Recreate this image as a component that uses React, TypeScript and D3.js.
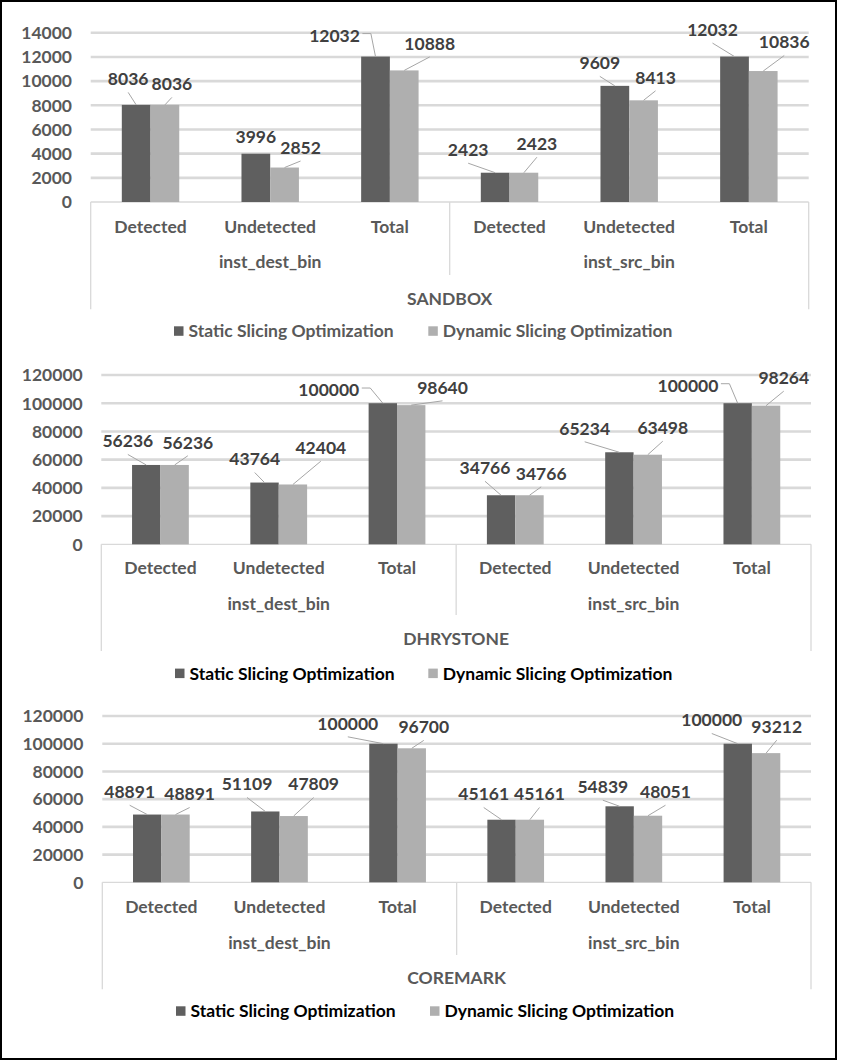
import React from "react";
import * as d3 from "d3";

// ---------- data ----------
const categories = ["Detected", "Undetected", "Total", "Detected", "Undetected", "Total"];
const groups = ["inst_dest_bin", "inst_src_bin"];
const seriesNames = ["Static Slicing Optimization", "Dynamic Slicing Optimization"];

const sandboxStatic = [8036, 3996, 12032, 2423, 9609, 12032];
const sandboxDynamic = [8036, 2852, 10888, 2423, 8413, 10836];
const dhrystoneStatic = [56236, 43764, 100000, 34766, 65234, 100000];
const dhrystoneDynamic = [56236, 42404, 98640, 34766, 63498, 98264];
const coremarkStatic = [48891, 51109, 100000, 45161, 54839, 100000];
const coremarkDynamic = [48891, 47809, 96700, 45161, 48051, 93212];

const sandboxTicks = [0, 2000, 4000, 6000, 8000, 10000, 12000, 14000];
const benchTicks = [0, 20000, 40000, 60000, 80000, 100000, 120000];

const titles = ["SANDBOX", "DHRYSTONE", "COREMARK"];

// ---------- layout / style ----------
const FONT = "Lato, 'Open Sans', sans-serif";
const FS = 17.5;
const DIGIT_W = 10.15;
const CAP = 6.3;
const seriesColors = ["#5f5f5f", "#afafaf"];
const axisText = "#595959";
const labelText = "#404040";
const gridColor = "#d9d9d9";
const leaderColor = "#a6a6a6";

// label offsets (dx, dy) of data labels from bar top-centre, [static[], dynamic[]]
const sandboxOffsets = [
  [[-8, -26], [0, -17], [-41, -21], [-27, -23], [-15, -23], [-22, -27]],
  [[7, -21], [16, -20], [25.5, -27], [13, -29], [12, -23], [21, -29]],
];
const dhrystoneOffsets = [
  [[-18.4, -24], [-9.8, -23.5], [-54, -13.2], [-16.1, -27.5], [-34.7, -24], [-49.7, -17.5]],
  [[13.2, -22.7], [27.9, -36.8], [31.3, -17.8], [11.7, -21.9], [15, -27], [17.7, -28]],
];
const coremarkOffsets = [
  [[-17.5, -22.8], [-18.3, -27.5], [-35.6, -20.4], [-17.8, -25.7], [-16.8, -19.6], [-26, -23.7]],
  [[14.1, -20.5], [20, -32], [12, -21.4], [9.6, -25.7], [17.5, -24], [10.6, -26.4]],
];

type PanelSpec = {
  title: string;
  stat: number[];
  dyn: number[];
  ticks: number[];
  offsets: number[][][];
  left: number;
  right: number;
  yTop: number;
  y0: number;
  tickRight: number;
  catY: number;
  groupY: number;
  titleY: number;
  sepBottom: number;
  midSepBottom: number;
  legendY: number;
  legendX: number[];
  legendColor: string;
};

const panels: PanelSpec[] = [
  {
    title: titles[0], stat: sandboxStatic, dyn: sandboxDynamic, ticks: sandboxTicks, offsets: sandboxOffsets,
    left: 90.7, right: 808.7, yTop: 32.8, y0: 202, tickRight: 72,
    catY: 227, groupY: 262, titleY: 298.3, sepBottom: 309.3, midSepBottom: 275,
    legendY: 331, legendX: [174, 428.3], legendColor: axisText,
  },
  {
    title: titles[1], stat: dhrystoneStatic, dyn: dhrystoneDynamic, ticks: benchTicks, offsets: dhrystoneOffsets,
    left: 101.3, right: 811, yTop: 375, y0: 544.3, tickRight: 82.7,
    catY: 567.7, groupY: 604, titleY: 638.3, sepBottom: 651, midSepBottom: 615,
    legendY: 673.3, legendX: [175, 428.3], legendColor: "#000000",
  },
  {
    title: titles[2], stat: coremarkStatic, dyn: coremarkDynamic, ticks: benchTicks, offsets: coremarkOffsets,
    left: 102.3, right: 811, yTop: 716, y0: 882.3, tickRight: 83.3,
    catY: 906.7, groupY: 942.3, titleY: 977.3, sepBottom: 989.3, midSepBottom: 955,
    legendY: 1011, legendX: [176, 430], legendColor: "#000000",
  },
];

function Panel({ p }: { p: PanelSpec }) {
  const idx = d3.range(categories.length);
  const x = d3.scaleBand<number>().domain(idx).range([p.left, p.right]).paddingInner(0.52).paddingOuter(0.26);
  const xs = d3.scaleBand<number>().domain([0, 1]).range([0, x.bandwidth()]);
  const y = d3.scaleLinear().domain([0, p.ticks[p.ticks.length - 1]]).range([p.y0, p.yTop]);
  const step = x.step();
  const catCenter = (i: number) => p.left + step * (i + 0.5);
  const midX = p.left + step * 3;
  const series = [p.stat, p.dyn];

  const textProps = { fontFamily: FONT, fontSize: FS, fontWeight: 700 } as const;

  return (
    <g>
      {/* gridlines */}
      {p.ticks.slice(1).map((t) => (
        <line key={"g" + t} x1={p.left} x2={p.right} y1={y(t)} y2={y(t)} stroke={gridColor} strokeWidth={2.6} />
      ))}
      {/* y tick labels */}
      {p.ticks.map((t) => (
        <text key={"t" + t} x={p.tickRight} y={y(t) + CAP} textAnchor="end" fill={axisText} {...textProps}>
          {t}
        </text>
      ))}
      {/* axis + category separators */}
      <line x1={p.left} x2={p.right} y1={p.y0} y2={p.y0} stroke={gridColor} strokeWidth={1.3} />
      <line x1={p.left} x2={p.left} y1={p.y0} y2={p.sepBottom} stroke={gridColor} strokeWidth={1.3} />
      <line x1={p.right} x2={p.right} y1={p.y0} y2={p.sepBottom} stroke={gridColor} strokeWidth={1.3} />
      <line x1={midX} x2={midX} y1={p.y0} y2={p.midSepBottom} stroke={gridColor} strokeWidth={1.3} />
      {/* bars */}
      {series.map((vals, s) =>
        vals.map((v, i) => (
          <rect
            key={`b${s}-${i}`}
            x={x(i)! + xs(s)!}
            y={y(v)}
            width={xs.bandwidth()}
            height={p.y0 - y(v)}
            fill={seriesColors[s]}
          />
        ))
      )}
      {/* data labels with leader lines */}
      {series.map((vals, s) =>
        vals.map((v, i) => {
          const bx = x(i)! + xs(s)! + xs.bandwidth() / 2;
          const by = y(v);
          const [dx, dy] = p.offsets[s][i];
          const lx = bx + dx;
          const ly = by + dy;
          const label = String(v);
          const halfW = (label.length * DIGIT_W) / 2;
          const barLeft = x(i)! + xs(s)!;
          let path: string | null = null;
          if (lx + halfW < barLeft) {
            const sx = lx + halfW + 2.5;
            const sy = ly - 2;
            path = `M${sx},${sy}H${sx + 8.5}L${bx},${by}`;
          } else {
            const sx = lx;
            const sy = ly + 13.5;
            if (Math.hypot(bx - sx, by - sy) > 5) path = `M${sx},${sy}L${bx},${by}`;
          }
          return (
            <g key={`l${s}-${i}`}>
              {path && <path d={path} fill="none" stroke={leaderColor} strokeWidth={1} />}
              <text x={lx} y={ly + CAP} textAnchor="middle" fill={labelText} {...textProps}>
                {label}
              </text>
            </g>
          );
        })
      )}
      {/* category labels */}
      {categories.map((c, i) => (
        <text key={"c" + i} x={catCenter(i)} y={p.catY + CAP} textAnchor="middle" fill={axisText} {...textProps}>
          {c}
        </text>
      ))}
      {/* group labels */}
      {groups.map((g, gi) => (
        <text
          key={"gr" + gi}
          x={p.left + step * (gi * 3 + 1.5)}
          y={p.groupY + CAP}
          textAnchor="middle"
          fill={axisText}
          {...textProps}
        >
          {g}
        </text>
      ))}
      {/* benchmark title */}
      <text x={(p.left + p.right) / 2} y={p.titleY + CAP} textAnchor="middle" fill={axisText} {...textProps}>
        {p.title}
      </text>
      {/* legend */}
      {seriesNames.map((n, s) => (
        <g key={"lg" + s}>
          <rect x={p.legendX[s]} y={p.legendY - 4.7} width={9.5} height={9.5} fill={seriesColors[s]} />
          <text x={p.legendX[s] + 14.5} y={p.legendY + CAP} fill={p.legendColor} {...textProps}>
            {n}
          </text>
        </g>
      ))}
    </g>
  );
}

export default function App() {
  return (
    <svg
      width={842}
      height={1061}
      style={{ position: "absolute", left: 0, top: 0, background: "#fff" }}
      xmlns="http://www.w3.org/2000/svg"
    >
      <rect x={0} y={0} width={842} height={1061} fill="#ffffff" />
      {panels.map((p, k) => (
        <Panel key={k} p={p} />
      ))}
      <rect x={1} y={1} width={835} height={1058} fill="none" stroke="#000" strokeWidth={2} />
    </svg>
  );
}
